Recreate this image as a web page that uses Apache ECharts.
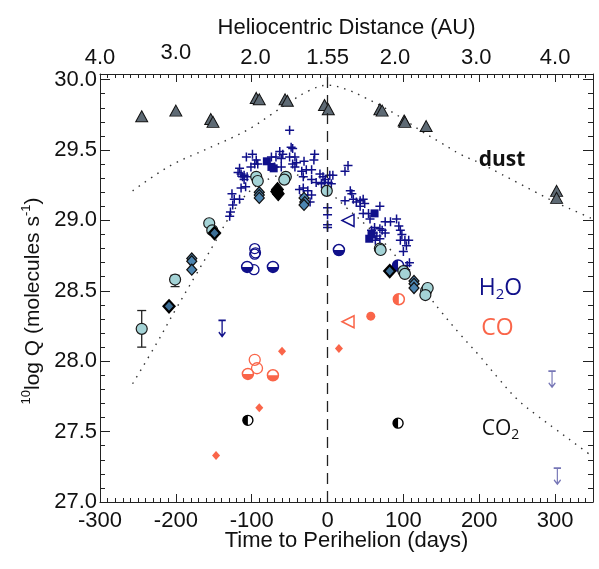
<!DOCTYPE html>
<html><head><meta charset="utf-8">
<script src="https://cdn.jsdelivr.net/npm/echarts@6/dist/echarts.min.js"></script>
<style>html,body{margin:0;padding:0;background:#fff}#c{width:599px;height:569px}</style>
</head><body><div id="c"></div>
<script>
// ---------------- DATA ----------------
const topLabelDays = [-300, -200, -95, 0, 89, 196, 300];
const topLabelText = ['4.0', '3.0', '2.0', '1.55', '2.0', '3.0', '4.0'];

const dustModelDays = [-257, -225, -200, -175, -150, -125, -100, -75, -50, -25, 0, 25, 50, 75, 100, 125, 150, 175, 200, 225, 250, 275, 300, 325, 350];
const dustModelQ    = [29.21, 29.33, 29.41, 29.47, 29.53, 29.59, 29.66, 29.75, 29.84, 29.92, 29.96, 29.93, 29.87, 29.80, 29.72, 29.63, 29.55, 29.47, 29.41, 29.34, 29.27, 29.20, 29.13, 29.07, 29.01];
const h2oModelDays  = [-257, -225, -200, -175, -150, -125, -100, -75, -50, -25, 0, 25, 50, 75, 100, 125, 150, 175, 200, 225, 250, 275, 300, 325, 350];
const h2oModelQ     = [27.84, 28.13, 28.37, 28.60, 28.83, 29.06, 29.22, 29.30, 29.33, 29.29, 29.21, 29.09, 28.97, 28.84, 28.68, 28.52, 28.35, 28.19, 28.04, 27.88, 27.73, 27.62, 27.52, 27.42, 27.32];

const dustDays = [-245, -200, -154, -151, -94, -90, -56, -53, -4, 1, 69, 72, 101, 102, 130, 302, 302];
const dustQ    = [29.74, 29.78, 29.72, 29.70, 29.87, 29.86, 29.86, 29.85, 29.82, 29.79, 29.79, 29.78, 29.71, 29.70, 29.67, 29.21, 29.16];

const h2oCrossDays = [-129, -128, -125, -123, -126, -116, -114, -108, -110, -106, -110, -112, -114, -118, -116, -107, -99, -94, -96, -101, -92,
  -74, -68, -63, -59, -61, -70, -61, -50, -46, -48, -50, -43, -41, -46, -43, -31, -17, -18,
  -34, -28, -21, -32, -21, -10, -6, -15, -8, -4, 3, -32, -37, -26, -31, -21, -23,
  0, 0, 0, 0, 27, 23, 7, 1, 5, -3,
  30, 32, 23, 34, 38, 43, 47, 43, 49, 69, 47, 56, 54,
  76, 83, 91, 94, 96, 98, 96, 102, 107, 104, 100, 76, 69, 72, 60, 65, 69, 63, 58, 62, 105, 103, 108];
const h2oCrossQ = [29.03, 29.06, 29.11, 29.15, 29.19, 29.15, 29.23, 29.24, 29.29, 29.31, 29.32, 29.31, 29.33, 29.34, 29.37, 29.45, 29.47, 29.43, 29.40, 29.38, 29.40,
  29.45, 29.45, 29.49, 29.47, 29.44, 29.38, 29.38, 29.64, 29.51, 29.52, 29.45, 29.45, 29.41, 29.40, 29.38, 29.42, 29.47, 29.43,
  29.35, 29.36, 29.36, 29.31, 29.29, 29.33, 29.31, 29.27, 29.26, 29.27, 29.32, 29.23, 29.22, 29.21, 29.18, 29.18, 29.13,
  29.09, 29.04, 28.97, 28.95, 29.39, 29.35, 29.32, 29.27, 29.26, 29.29,
  29.21, 29.19, 29.14, 29.15, 29.13, 29.14, 29.15, 29.10, 29.12, 29.10, 29.05, 29.01, 29.05,
  28.99, 28.99, 29.01, 28.96, 28.93, 28.90, 28.86, 28.86, 28.86, 28.82, 28.78, 28.91, 28.94, 28.93, 28.91, 28.89, 28.87, 28.86, 28.93, 28.95, 28.68, 28.65, 28.70];

const h2oSquareDays = [-80, -74, -71, 62, 55, 58];
const h2oSquareQ    = [29.42, 29.38, 29.37, 29.05, 28.87, 28.90];
const h2oTriDays = [27];
const h2oTriQ    = [29.00];
const h2oOpenDays = [-96, -95, -96, -97];
const h2oOpenQ    = [28.80, 28.77, 28.76, 28.65];
const h2oHalfDays = [-106, -72, 15];
const h2oHalfQ    = [28.67, 28.67, 28.79];
const h2oHalfLeftDays = [93];
const h2oHalfLeftQ    = [28.68];

const tealDays = [-94, -92, -55, -57, -1, -156, -152, -201, -245, 69, 70, 100, 102, 130, 132, 129];
const tealQ    = [29.31, 29.28, 29.31, 29.29, 29.21, 28.98, 28.93, 28.58, 28.23, 28.80, 28.79, 28.64, 28.62, 28.50, 28.52, 28.47];
const errDays = [-201, -245];
const errLow  = [28.53, 28.10];
const errHigh = [28.61, 28.36];

const diamondDays = [-90, -90, -90, -31, -30, -31, -179, -179, -179, 114, 114, 114];
const diamondQ    = [29.20, 29.18, 29.16, 29.16, 29.13, 29.11, 28.73, 28.71, 28.65, 28.57, 28.55, 28.52];
const darkDiamondDays = [-149, -209, 82];
const darkDiamondQ    = [28.91, 28.39, 28.64];
const blackDiamondDays = [-66, -65, -67];
const blackDiamondQ    = [29.22, 29.19, 29.205];

const coOpenDays = [-96, -93];
const coOpenQ    = [28.01, 27.95];
const coHalfDays = [-105, -72];
const coHalfQ    = [27.91, 27.90];
const coDiamondDays = [-60, 15, -90, -147];
const coDiamondQ    = [28.07, 28.09, 27.67, 27.33];
const coTriDays = [27];
const coTriQ    = [28.28];
const coFilledDays = [57];
const coFilledQ    = [28.32];
const coHalfLeftDays = [94];
const coHalfLeftQ    = [28.44];

const co2Days = [-105, 93];
const co2Q    = [27.58, 27.56];

const limitH2ODays = [-139];
const limitH2OQ    = [28.29];
const limitLightDays = [296, 303];
const limitLightQ    = [27.93, 27.24];

const annDays = [230, 228, 224, 228];
const annQ    = [29.43, 28.52, 28.235, 27.52];

// ---------------- STYLE ----------------
const FONT = '"Liberation Sans", Arial, Helvetica, sans-serif';
const ANN_FONT = '"Open Sans", sans-serif';
const NAVY = '#10108a';
const TOMATO = '#fa6549';
const LIGHT = '#7676b6';
const PLUS = 'path://M-1,0L1,0M0,-1L0,1';
const HALF_BOTTOM = 'path://M0,-1M-1,0A1,1,0,0,0,1,0Z';
const HALF_LEFT = 'path://M1,0M0,-1A1,1,0,0,0,0,1Z';
const LIMIT = 'path://M-1,0L1,0M0,0L0,3M-0.9,2.2L0,3L0.9,2.2';
const CLEAR = 'rgba(0,0,0,0)';

const zip = (a, b) => a.map((v, i) => [v, b[i]]);

function sc(data, symbol, size, itemStyle, extra) {
  return Object.assign({
    type: 'scatter', data: data, symbol: symbol, symbolSize: size,
    itemStyle: Object.assign({opacity: 1}, itemStyle), silent: true, animation: false
  }, extra || {});
}

const chart = echarts.init(document.getElementById('c'), null, {renderer: 'canvas'});

const axisLineStyle = {color: '#222', width: 1};
const labelStyle = {fontFamily: FONT, fontSize: 22, color: '#111'};

const xMain = (pos, extra) => Object.assign({
  type: 'value', min: -300, max: 350, interval: 100, position: pos, gridIndex: 0,
  axisLine: {show: true, onZero: false, lineStyle: axisLineStyle},
  axisTick: {show: true, inside: true, length: 8, lineStyle: axisLineStyle},
  splitLine: {show: false}, minorTick: {show: false}
}, extra);
const xMinor = (pos) => ({
  type: 'value', min: -300, max: 350, interval: 10, position: pos, gridIndex: 0,
  axisLine: {show: false, onZero: false}, axisLabel: {show: false}, splitLine: {show: false},
  axisTick: {show: true, inside: true, length: 4, lineStyle: axisLineStyle}
});
const yMain = (pos, extra) => Object.assign({
  type: 'value', min: 27.0, max: 30.04, interval: 0.5, position: pos, gridIndex: 0,
  axisLine: {show: true, onZero: false, lineStyle: axisLineStyle},
  axisTick: {show: true, inside: true, length: 10, lineStyle: axisLineStyle},
  splitLine: {show: false}, minorTick: {show: false}
}, extra);
const yMinor = (pos) => ({
  type: 'value', min: 27.0, max: 30.04, interval: 0.1, position: pos, gridIndex: 0,
  axisLine: {show: false, onZero: false}, axisLabel: {show: false}, splitLine: {show: false},
  axisTick: {show: true, inside: true, length: 5, lineStyle: axisLineStyle}
});

const option = {
  backgroundColor: '#fff',
  animation: false,
  grid: {left: 100, right: 6, top: 74, bottom: 67, containLabel: false},
  xAxis: [
    xMain('bottom', {
      axisLabel: Object.assign({margin: 8, showMaxLabel: false}, labelStyle),
      name: 'Time to Perihelion (days)', nameLocation: 'middle', nameGap: 28, nameMoveOverlap: false,
      nameTextStyle: Object.assign({}, labelStyle)
    }),
    xMain('top', {
      axisLabel: Object.assign({
        margin: 5, customValues: topLabelDays,
        formatter: v => { const i = topLabelDays.indexOf(v); if (i < 0) return ''; return i === 1 ? '{hi|' + topLabelText[i] + '}' : topLabelText[i]; },
        rich: {hi: {fontFamily: FONT, fontSize: 22, color: '#111', padding: [0, 0, 5, 0]}}
      }, labelStyle),
      name: 'Heliocentric Distance (AU)', nameLocation: 'middle', nameGap: 35, nameMoveOverlap: false,
      nameTextStyle: Object.assign({}, labelStyle)
    }),
    xMinor('bottom'),
    xMinor('top')
  ],
  yAxis: [
    yMain('left', {
      axisLabel: Object.assign({margin: 3, showMaxLabel: false, formatter: v => v.toFixed(1)}, labelStyle),
      name: '{sup|10}log Q (molecules s{sup|-1})', nameLocation: 'middle', nameGap: 54, nameRotate: 90, nameMoveOverlap: false,
      nameTextStyle: {
        fontFamily: FONT, fontSize: 21, color: '#111', lineHeight: 26, padding: [0, 26, 0, 0],
        rich: {sup: {fontFamily: FONT, fontSize: 13, color: '#111', verticalAlign: 'top', lineHeight: 14}}
      }
    }),
    yMain('right', {axisLabel: {show: false}}),
    yMinor('left'),
    yMinor('right')
  ],
  series: [
    // model curves
    {type: 'line', data: zip(dustModelDays, dustModelQ), smooth: 0.4, showSymbol: false, silent: true,
     lineStyle: {color: '#333', width: 1.4, type: [1.5, 6]}, z: 1},
    {type: 'line', data: zip(h2oModelDays, h2oModelQ), smooth: 0.4, showSymbol: false, silent: true,
     lineStyle: {color: '#333', width: 1.4, type: [1.5, 6]}, z: 1,
     markLine: {silent: true, symbol: ['none', 'none'], label: {show: false},
       lineStyle: {color: '#222', width: 1.3, type: [11, 7]},
       data: [{xAxis: 0}]}},
    // dust
    sc(zip(dustDays, dustQ), 'triangle', [12, 11], {color: '#5e6a74', borderColor: '#111', borderWidth: 1}),
    // H2O crosses
    sc(zip(h2oCrossDays, h2oCrossQ), PLUS, 9, {color: CLEAR, borderColor: NAVY, borderWidth: 1.5}),
    sc(zip(h2oSquareDays, h2oSquareQ), 'rect', 8, {color: NAVY}),
    sc(zip(h2oTriDays, h2oTriQ), 'triangle', [12, 12], {color: CLEAR, borderColor: NAVY, borderWidth: 1.5}, {symbolRotate: 90}),
    sc(zip(h2oOpenDays, h2oOpenQ), 'circle', 10, {color: CLEAR, borderColor: NAVY, borderWidth: 1.3}),
    sc(zip(h2oHalfDays.concat(h2oHalfLeftDays), h2oHalfQ.concat(h2oHalfLeftQ)), 'circle', 11, {color: '#fff', borderColor: NAVY, borderWidth: 1.5}),
    sc(zip(h2oHalfDays, h2oHalfQ), HALF_BOTTOM, 11, {color: NAVY}),
    sc(zip(h2oHalfLeftDays, h2oHalfLeftQ), HALF_LEFT, 11, {color: NAVY}),
    // teal circles with error bars
    {type: 'custom', silent: true, animation: false, z: 3,
     data: errDays.map((d, i) => [d, errLow[i], errHigh[i]]),
     renderItem: (params, api) => {
       const lo = api.coord([api.value(0), api.value(1)]);
       const hi = api.coord([api.value(0), api.value(2)]);
       const w = 4.5;
       const st = {stroke: '#222', lineWidth: 1.3};
       return {type: 'group', children: [
         {type: 'line', shape: {x1: lo[0], y1: lo[1], x2: hi[0], y2: hi[1]}, style: st},
         {type: 'line', shape: {x1: lo[0] - w, y1: lo[1], x2: lo[0] + w, y2: lo[1]}, style: st},
         {type: 'line', shape: {x1: hi[0] - w, y1: hi[1], x2: hi[0] + w, y2: hi[1]}, style: st}
       ]};
     }},
    sc(zip(tealDays, tealQ), 'circle', 11, {color: '#a4d3d6', borderColor: '#1a1a1a', borderWidth: 1.2}, {z: 4}),
    sc(zip(diamondDays, diamondQ), 'diamond', [10, 11], {color: '#4d85b1', borderColor: '#111', borderWidth: 1.2}, {z: 4}),
    sc(zip(darkDiamondDays, darkDiamondQ), 'diamond', [11, 12], {color: '#3c6e96', borderColor: '#000', borderWidth: 2.2}, {z: 4}),
    sc(zip(blackDiamondDays, blackDiamondQ), 'diamond', [12, 14], {color: '#000', borderColor: '#000', borderWidth: 1}, {z: 4}),
    // CO
    sc(zip(coOpenDays, coOpenQ), 'circle', 11, {color: CLEAR, borderColor: TOMATO, borderWidth: 1.3}),
    sc(zip(coHalfDays.concat(coHalfLeftDays), coHalfQ.concat(coHalfLeftQ)), 'circle', 11, {color: '#fff', borderColor: TOMATO, borderWidth: 1.5}),
    sc(zip(coHalfDays, coHalfQ), HALF_BOTTOM, 11, {color: TOMATO}),
    sc(zip(coHalfLeftDays, coHalfLeftQ), HALF_LEFT, 11, {color: TOMATO}),
    sc(zip(coDiamondDays, coDiamondQ), 'diamond', [8, 9], {color: TOMATO}),
    sc(zip(coTriDays, coTriQ), 'triangle', [12, 12], {color: CLEAR, borderColor: TOMATO, borderWidth: 1.5}, {symbolRotate: 90}),
    sc(zip(coFilledDays, coFilledQ), 'circle', 9, {color: TOMATO}),
    // CO2
    sc(zip(co2Days, co2Q), 'circle', 10, {color: '#fff', borderColor: '#000', borderWidth: 1.4}),
    sc(zip(co2Days, co2Q), HALF_LEFT, 10, {color: '#000'}),
    // upper limits
    sc(zip(limitH2ODays, limitH2OQ), LIMIT, [11, 16], {color: CLEAR, borderColor: NAVY, borderWidth: 1.6}, {symbolKeepAspect: true, symbolOffset: [0, '50%']}),
    sc(zip(limitLightDays, limitLightQ), LIMIT, [11, 16], {color: CLEAR, borderColor: LIGHT, borderWidth: 1.4}, {symbolKeepAspect: true, symbolOffset: [0, '50%']}),
    // annotations
    {type: 'scatter', silent: true, animation: false, symbolSize: 1, itemStyle: {color: CLEAR, opacity: 1}, z: 6,
     label: {show: true, position: 'inside', fontFamily: ANN_FONT},
     data: [
       {value: [annDays[0], annQ[0]], label: {formatter: 'dust', fontSize: 21, fontWeight: 'bold', color: '#111'}},
       {value: [annDays[1], annQ[1]], label: {formatter: '{n|H}{s|2}{n|O}',
         rich: {n: {fontFamily: ANN_FONT, fontSize: 23, color: NAVY, lineHeight: 28},
                s: {fontFamily: ANN_FONT, fontSize: 15, color: NAVY, verticalAlign: 'bottom', lineHeight: 16}}}},
       {value: [annDays[2], annQ[2]], label: {formatter: 'CO', fontSize: 23, color: TOMATO}},
       {value: [annDays[3], annQ[3]], label: {formatter: '{n|CO}{s|2}',
         rich: {n: {fontFamily: ANN_FONT, fontSize: 21, color: '#111', lineHeight: 26},
                s: {fontFamily: ANN_FONT, fontSize: 14, color: '#111', verticalAlign: 'bottom', lineHeight: 15}}}}
     ]}
  ]
};
chart.setOption(option);
</script></body></html>
